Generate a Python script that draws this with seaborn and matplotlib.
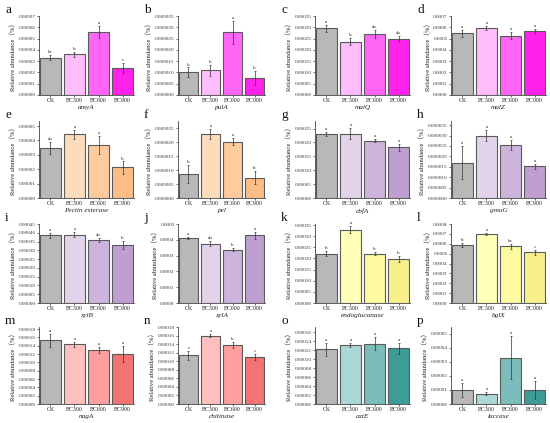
import numpy as np
import pandas as pd
import matplotlib
matplotlib.use("Agg")
import matplotlib.pyplot as plt
import seaborn as sns
from matplotlib.ticker import MultipleLocator, FormatStrFormatter

sns.set_style("white")
plt.rcParams['font.family'] = ['Liberation Serif', 'Noto Sans CJK SC', 'DejaVu Sans']

groups = ["CK", "BC300", "BC600", "BC900"]

# ---- data (mean, error, significance letters) ----
amyA_mean = [0.000033, 0.000036, 0.000056, 0.000024]
amyA_err = [0.0000022, 0.0000022, 0.0000052, 0.0000042]
amyA_sig = ["bc", "b", "a", "c"]

pulA_mean = [0.0000100, 0.0000110, 0.0000278, 0.0000075]
pulA_err = [0.0000022, 0.0000024, 0.0000050, 0.0000032]
pulA_sig = ["b", "b", "a", "b"]

malQ_mean = [0.000295, 0.000237, 0.000270, 0.000250]
malQ_err = [0.000015, 0.000017, 0.000016, 0.000010]
malQ_sig = ["a", "b", "ab", "ab"]

malZ_mean = [0.000545, 0.000590, 0.000525, 0.000565]
malZ_err = [0.000032, 0.000018, 0.000030, 0.000018]
malZ_sig = ["a", "a", "a", "a"]

pec_mean = [0.0000345, 0.0000442, 0.0000368, 0.0000212]
pec_err = [0.0000042, 0.0000030, 0.0000065, 0.0000042]
pec_sig = ["ab", "a", "a", "b"]

pel_mean = [0.0000085, 0.0000230, 0.0000202, 0.0000073]
pel_err = [0.0000033, 0.0000017, 0.0000012, 0.0000023]
pel_sig = ["b", "a", "a", "b"]

cbfA_mean = [0.000230, 0.000231, 0.000206, 0.000183]
cbfA_err = [0.000008, 0.000020, 0.000006, 0.000013]
cbfA_sig = ["a", "a", "a", "a"]

gmuG_mean = [0.0000170, 0.0000300, 0.0000255, 0.0000152]
gmuG_err = [0.0000078, 0.0000028, 0.0000022, 0.0000013]
gmuG_sig = ["a", "a", "a", "a"]

xylB_mean = [0.000385, 0.000390, 0.000360, 0.000332]
xylB_err = [0.000012, 0.000012, 0.000011, 0.000024]
xylB_sig = ["a", "a", "ab", "b"]

xylA_mean = [0.000413, 0.000375, 0.000338, 0.000428]
xylA_err = [0.000007, 0.000015, 0.000009, 0.000020]
xylA_sig = ["a", "ab", "b", "a"]

endo_mean = [0.000222, 0.000330, 0.000222, 0.000197]
endo_err = [0.000011, 0.000016, 0.000007, 0.000013]
endo_sig = ["b", "a", "b", "b"]

bglX_mean = [0.000585, 0.000700, 0.000575, 0.000512]
bglX_err = [0.000020, 0.000012, 0.000025, 0.000025]
bglX_sig = ["b", "a", "bc", "c"]

nagA_mean = [0.000153, 0.000143, 0.000130, 0.000120]
nagA_err = [0.000015, 0.000005, 0.000008, 0.000020]
nagA_sig = ["a", "a", "a", "a"]

chit_mean = [0.000114, 0.000160, 0.000138, 0.000110]
chit_err = [0.000010, 0.000004, 0.000006, 0.000006]
chit_sig = ["c", "a", "b", "c"]

catE_mean = [0.000122, 0.000132, 0.000135, 0.000124]
catE_err = [0.000015, 0.000005, 0.000014, 0.000012]
catE_sig = ["a", "a", "a", "a"]

lacc_mean = [0.0000098, 0.0000074, 0.0000330, 0.0000100]
lacc_err = [0.0000050, 0.0000012, 0.0000152, 0.0000065]
lacc_sig = ["a", "a", "a", "a"]

gene_names = ["amyA", "pulA", "malQ", "malZ",
              "Pectin esterase", "pel", "cbfA", "gmuG",
              "xylB", "xylA", "endoglucanase", "bglX",
              "nagA", "chitinase", "catE", "laccase"]
panel_letters = list("abcdefghijklmnop")
means = [amyA_mean, pulA_mean, malQ_mean, malZ_mean,
         pec_mean, pel_mean, cbfA_mean, gmuG_mean,
         xylB_mean, xylA_mean, endo_mean, bglX_mean,
         nagA_mean, chit_mean, catE_mean, lacc_mean]
errs = [amyA_err, pulA_err, malQ_err, malZ_err,
        pec_err, pel_err, cbfA_err, gmuG_err,
        xylB_err, xylA_err, endo_err, bglX_err,
        nagA_err, chit_err, catE_err, lacc_err]
sigs = [amyA_sig, pulA_sig, malQ_sig, malZ_sig,
        pec_sig, pel_sig, cbfA_sig, gmuG_sig,
        xylB_sig, xylA_sig, endo_sig, bglX_sig,
        nagA_sig, chit_sig, catE_sig, lacc_sig]

# ---- styling ----
gray = "#b8b8b8"
pal_magenta = [gray, "#ffbdfd", "#ff66f6", "#ff22ea"]
pal_orange = [gray, "#fddcbb", "#fdcb9c", "#fcbd86"]
pal_purple = [gray, "#e2d3ea", "#cdb4dd", "#bf9fd2"]
pal_yellow = [gray, "#ffffb8", "#fdfaa2", "#f7f08a"]
pal_red = [gray, "#ffbfbf", "#ff9e9e", "#f47373"]
pal_teal = [gray, "#abd8d6", "#7bbdba", "#3e9c96"]
palettes = [pal_magenta] * 4 + [pal_orange] * 2 + [pal_purple] * 2 + \
           [pal_purple] * 2 + [pal_yellow] * 2 + [pal_red] * 2 + [pal_teal] * 2

ytops = [7e-5, 3.5e-5, 3.5e-4, 7e-4,
         5.35e-5, 2.76e-5, 2.77e-4, 3.7e-5,
         4.5e-4, 5e-4, 3.55e-4, 8e-4,
         1.85e-4, 1.8e-4, 1.72e-4, 5.47e-5]
ysteps = [1e-5, 5e-6, 5e-5, 1e-4,
          1e-5, 5e-6, 5e-5, 5e-6,
          5e-5, 1e-4, 5e-5, 1e-4,
          2e-5, 2e-5, 2e-5, 1e-5]
ydec = [5, 6, 5, 4,
        5, 6, 5, 6,
        5, 4, 5, 4,
        5, 5, 5, 5]

W, H = 550, 423
fig = plt.figure(figsize=(5.5, 4.23), dpi=100)
cols = [(39, 134), (178, 265), (315, 410), (451, 546)]
rows = [(16, 95), (121, 198), (224, 303), (327, 404)]

for i in range(16):
    r, c = divmod(i, 4)
    l, rr = cols[c]
    t, b = rows[r]
    ax = fig.add_axes([l / W, 1 - b / H, (rr - l) / W, (b - t) / H])
    df = pd.DataFrame({"group": groups, "value": means[i]})
    sns.barplot(data=df, x="group", y="value", hue="group", palette=palettes[i],
                legend=False, errorbar=None, width=0.86, edgecolor="#5a5a5a",
                linewidth=0.8, saturation=1, ax=ax)
    ax.errorbar(np.arange(4), means[i], yerr=errs[i], fmt="none",
                ecolor="#333333", elinewidth=0.5, capsize=0.8, capthick=0.5)
    for k in range(4):
        ax.text(k, means[i][k] + errs[i][k] + ytops[i] * 0.012, sigs[i][k],
                ha="center", va="bottom", fontsize=3.6, color="#222222")
    ax.set_xlim(-0.47, 3.47)
    ax.set_ylim(0, ytops[i])
    ax.yaxis.set_major_locator(MultipleLocator(ysteps[i]))
    ax.yaxis.set_major_formatter(FormatStrFormatter("%%.%df" % ydec[i]))
    ax.tick_params(axis="y", labelsize=3.7, length=1.5, width=0.5, pad=1,
                   direction="out", left=True, colors="#333333")
    ax.tick_params(axis="x", labelsize=4.2, length=1.2, width=0.5, pad=1.2,
                   bottom=True, colors="#222222")
    for s in ["top", "right"]:
        ax.spines[s].set_visible(False)
    for s in ["left", "bottom"]:
        ax.spines[s].set_linewidth(0.6)
        ax.spines[s].set_color("#444444")
    ax.set_xlabel(gene_names[i], fontsize=5.2, style="italic", labelpad=1.5,
                  color="#222222")
    ax.set_ylabel("Relative abundance（%）", fontsize=4.8, labelpad=1.5,
                  color="#222222")
    fig.text((l - 34) / W, 1 - (t - 6) / H,
             panel_letters[i], fontsize=9.5, ha="left", va="center",
             family="Liberation Serif", color="#111111")

fig.savefig("out.png", dpi=100)
